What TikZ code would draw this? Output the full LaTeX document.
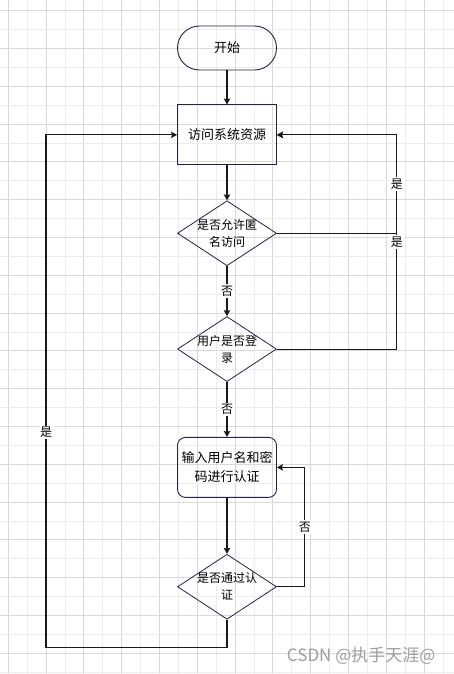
\documentclass[tikz,border=0pt]{standalone}
\usepackage{fontspec}
\setmainfont{Noto Sans CJK SC}
\usetikzlibrary{shapes.geometric,positioning,arrows.meta}
\definecolor{edge}{RGB}{36,36,72}
\definecolor{gridA}{RGB}{216,216,216}
\definecolor{gridB}{RGB}{236,236,236}

\begin{document}
\begin{tikzpicture}[x=1pt, y=-1pt, >={Stealth[length=6pt,width=6.5pt,inset=1pt]},
  term/.style = {draw=edge, line width=0.9pt, rounded corners=22pt, minimum width=99pt, minimum height=44pt, font=\fontsize{13}{16}\selectfont},
  main/.style = {draw=edge, line width=0.9pt, minimum width=99pt, minimum height=60pt, font=\fontsize{13}{16}\selectfont},
  soft/.style = {main, rounded corners=8pt, align=center, font=\fontsize{13}{19}\selectfont},
  dia/.style = {draw=edge, line width=0.8pt, diamond, minimum width=99pt, minimum height=65pt, inner sep=0pt},
  dtext/.style = {align=center, font=\fontsize{12}{17}\selectfont},
  lbl/.style = {fill=white, inner sep=1.5pt, font=\fontsize{12}{14}\selectfont},
  conn/.style = {->, line width=1.1pt, draw=black!90}]
\useasboundingbox (0,0) rectangle (454,674);
\fill[white] (0,0) rectangle (454,674);
% grid
\foreach \k in {0,...,11} {
  \draw[gridB, line width=0.9pt] ({27.2+37.8*\k},0) -- ({27.2+37.8*\k},674);
  \draw[gridA, line width=0.9pt] ({8.3+37.8*\k},0) -- ({8.3+37.8*\k},674);
}
\foreach \k in {0,...,17} {
  \draw[gridB, line width=0.9pt] (0,{29.6+37.8*\k}) -- (454,{29.6+37.8*\k});
  \draw[gridA, line width=0.9pt] (0,{10.7+37.8*\k}) -- (454,{10.7+37.8*\k});
}

\node[term] (1) at (227,48) {开始};
\node[main, below=34pt of 1] (2) {访问系统资源};
\node[dia, below=35pt of 2, label={[dtext]center:是否允许匿\\名访问}] (3) {};
\node[dia, below=50pt of 3, label={[dtext]center:用户是否登\\录}] (4) {};
\node[soft, below=55pt of 4] (5) {输入用户名和密\\码进行认证};
\node[dia, below=56pt of 5, label={[dtext]center:是否通过认\\证}] (6) {};
\node[text=black!38, anchor=east, font=\fontsize{17}{20}\selectfont] (mark) at (439,656) {CSDN @执手天涯@};

\draw[conn] (1) -- (2);
\draw[conn] (2) -- (3);
\draw[conn] (3) -- node[lbl] {否} (4);
\draw[conn] (4) -- node[lbl] {否} (5);
\draw[conn] (5) -- (6);
\draw[conn] (4.east) -- ++(120,0) |- node[lbl, pos=0.25] {是} (2.east);
\draw[conn] (3.east) -- ++(120,0) |- node[lbl, pos=0.25] {是} (2.east);
\draw[conn] (6.east) -- ++(28,0) |- node[lbl, pos=0.25] {否} (5.east);
\draw[conn] (6.south) -- ++(0,28) -- ++(-181,0) |- node[lbl, pos=0.21] {是} (2.west);
\end{tikzpicture}
\end{document}
